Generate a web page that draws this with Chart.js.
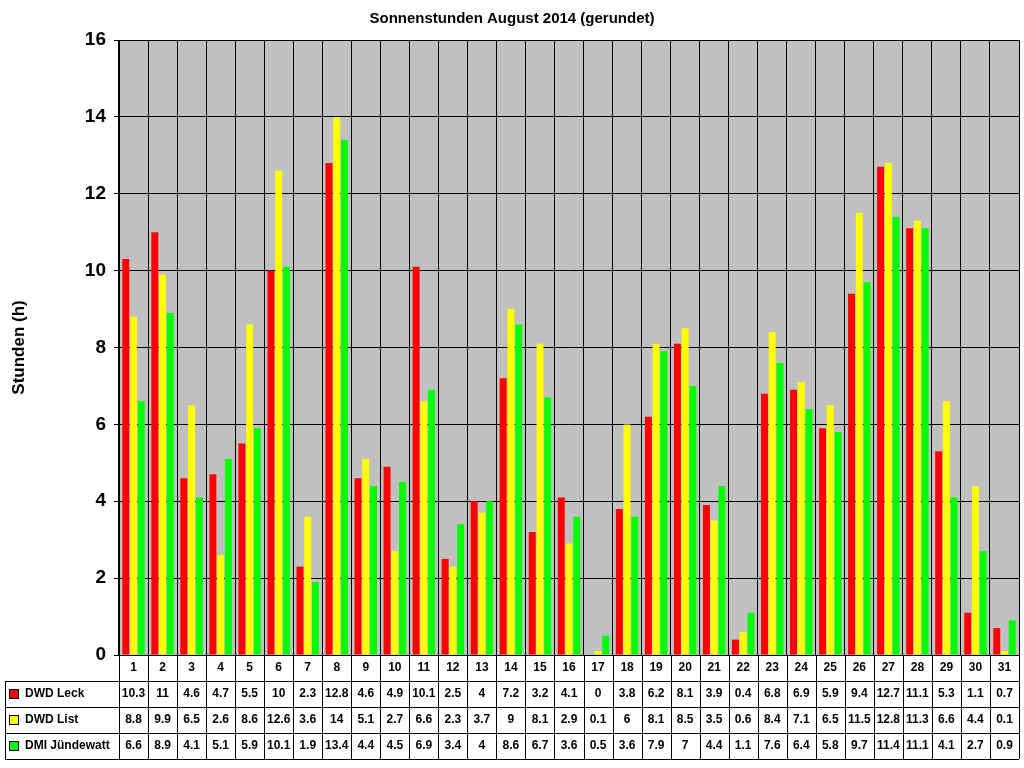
<!DOCTYPE html>
<html><head><meta charset="utf-8">
<script src="https://cdn.jsdelivr.net/npm/chart.js@4/dist/chart.umd.min.js"></script>
<style>body{margin:0;background:#fff}#wrap{width:1024px;height:768px}</style>
</head><body><div id="wrap"><canvas id="chart" width="1024" height="768"></canvas></div>
<script>
var days = [];
for (var d = 1; d <= 31; d++) days.push(String(d));
var seriesNames = ["DWD Leck", "DWD List", "DMI Jündewatt"];
var seriesColors = ["#ff0000", "#ffff00", "#00ff00"];
var leck = [10.3, 11, 4.6, 4.7, 5.5, 10, 2.3, 12.8, 4.6, 4.9, 10.1, 2.5, 4, 7.2, 3.2, 4.1, 0, 3.8, 6.2, 8.1, 3.9, 0.4, 6.8, 6.9, 5.9, 9.4, 12.7, 11.1, 5.3, 1.1, 0.7];
var list = [8.8, 9.9, 6.5, 2.6, 8.6, 12.6, 3.6, 14, 5.1, 2.7, 6.6, 2.3, 3.7, 9, 8.1, 2.9, 0.1, 6, 8.1, 8.5, 3.5, 0.6, 8.4, 7.1, 6.5, 11.5, 12.8, 11.3, 6.6, 4.4, 0.1];
var dmi = [6.6, 8.9, 4.1, 5.1, 5.9, 10.1, 1.9, 13.4, 4.4, 4.5, 6.9, 3.4, 4, 8.6, 6.7, 3.6, 0.5, 3.6, 7.9, 7, 4.4, 1.1, 7.6, 6.4, 5.8, 9.7, 11.4, 11.1, 4.1, 2.7, 0.9];
var allSeries = [leck, list, dmi];

var tablePlugin = {
    id: 'table',
    beforeDraw: function(chart) {
        var a = chart.chartArea, c = chart.ctx;
        c.save();
        c.fillStyle = "#c0c0c0";
        c.fillRect(a.left, a.top, a.right - a.left, a.bottom - a.top);
        c.restore();
    },
    afterDraw: function(chart) {
        var a = chart.chartArea, c = chart.ctx, x = chart.scales.x;
        var rowH = 26, top = a.bottom, left = 5;
        var colW = (a.right - a.left) / days.length;
        c.save();
        c.strokeStyle = "#000"; c.lineWidth = 1;
        c.font = "bold 12px Arial, 'Liberation Sans', sans-serif";
        c.textAlign = "center"; c.textBaseline = "middle"; c.fillStyle = "#000";
        // plot border
        c.strokeRect(a.left + 0.5, a.top + 0.5, a.right - a.left, a.bottom - a.top);
        // column lines
        for (var i = 0; i <= days.length; i++) {
            var xx = Math.round(a.left + i * colW) + 0.5;
            c.beginPath(); c.moveTo(xx, top); c.lineTo(xx, top + rowH * 4); c.stroke();
        }
        c.beginPath(); c.moveTo(left + 0.5, top + rowH); c.lineTo(left + 0.5, top + rowH * 4); c.stroke();
        for (var r = 0; r <= 4; r++) {
            var yy = Math.round(top + r * rowH) + 0.5;
            c.beginPath(); c.moveTo(r == 0 ? a.left : left, yy); c.lineTo(a.right, yy); c.stroke();
        }
        for (var i = 0; i < days.length; i++) {
            var cx = x.getPixelForValue(i);
            c.fillText(days[i], cx, top + rowH / 2);
            for (var s = 0; s < 3; s++) c.fillText(String(allSeries[s][i]), cx, top + rowH * (s + 1.5));
        }
        c.textAlign = "left";
        for (var s = 0; s < 3; s++) {
            var cy = top + rowH * (s + 1.5);
            c.fillStyle = seriesColors[s];
            c.fillRect(9, cy - 5, 10, 10);
            c.strokeRect(9.5, cy - 4.5, 9, 9);
            c.fillStyle = "#000";
            c.fillText(seriesNames[s], 25, cy);
        }
        c.restore();
    }
};

var ctx = document.getElementById("chart").getContext('2d');
var myChart = new Chart(ctx, {
    type: 'bar',
    plugins: [tablePlugin],
    data: {
        labels: days,
        datasets: allSeries.map(function(v, s) {
            return { label: seriesNames[s], data: v, backgroundColor: seriesColors[s], borderWidth: 0 };
        })
    },
    options: {
        responsive: false,
        animation: false,
        events: [],
        layout: { padding: { left: 5, right: 5, bottom: 113, top: 0 } },
        plugins: {
            legend: { display: false },
            tooltip: { enabled: false },
            title: {
                display: true, text: "Sonnenstunden August 2014 (gerundet)", color: "#000",
                font: { family: "Arial, 'Liberation Sans', sans-serif", size: 15, weight: 'bold' },
                padding: { top: 10, bottom: 12 }
            }
        },
        scales: {
            x: {
                ticks: { display: false },
                grid: { color: "#000", offset: true, drawTicks: false },
                border: { color: "#000" },
                categoryPercentage: 0.96, barPercentage: 1
            },
            y: {
                min: 0, max: 16,
                afterFit: function(scale) { scale.width = 114; },
                ticks: { stepSize: 2, color: "#000", padding: 8,
                    font: { family: "Arial, 'Liberation Sans', sans-serif", size: 19, weight: 'bold' } },
                grid: { color: "#000", drawTicks: true, tickLength: 5 },
                border: { color: "#000" },
                title: { display: true, text: "Stunden (h)", color: "#000",
                    font: { family: "Arial, 'Liberation Sans', sans-serif", size: 17, weight: 'bold' } }
            }
        }
    }
});
</script>
</body></html>
